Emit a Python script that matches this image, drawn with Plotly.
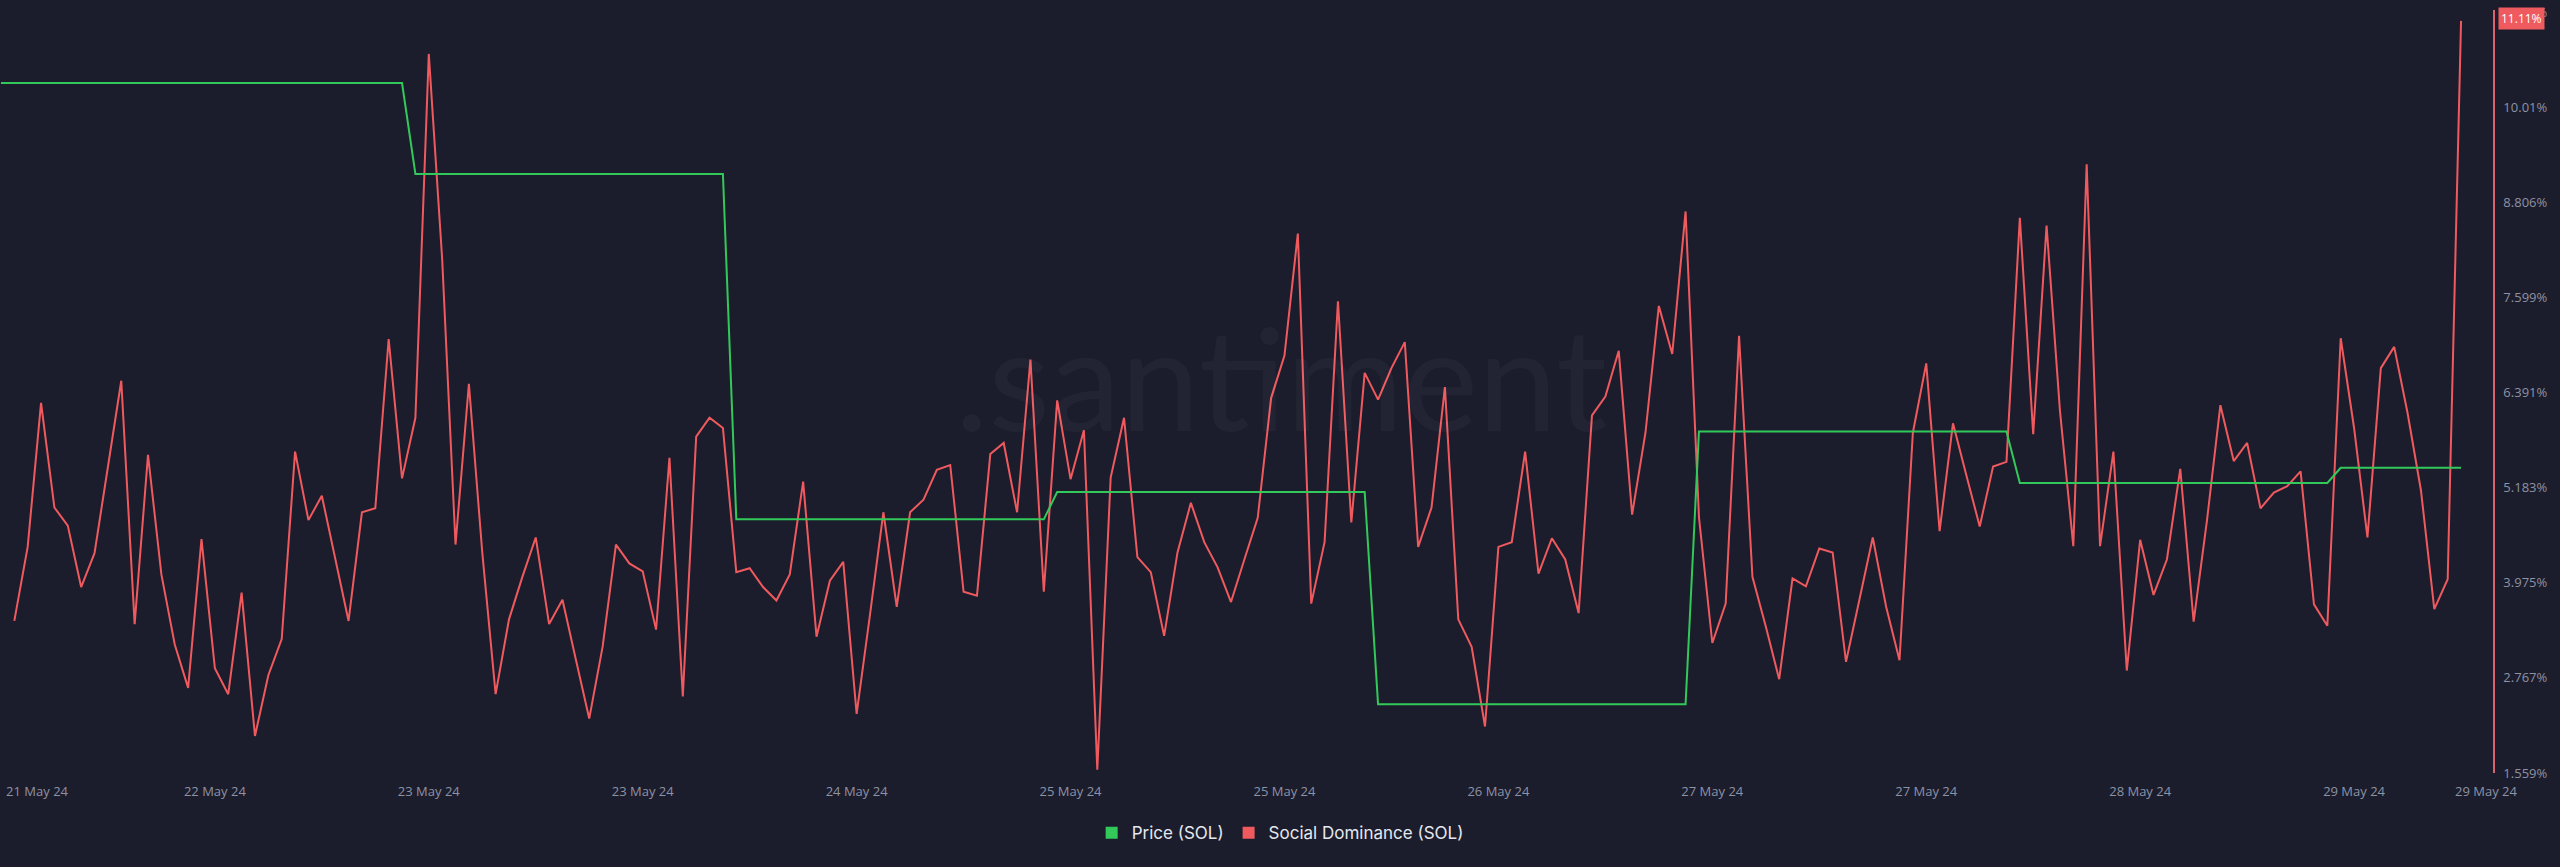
import pandas as pd
import plotly.graph_objects as go

# ---------------- data ----------------
# Social Dominance (SOL), hourly, first point 2024-05-21 18:00
social_dominance = [
    3.49, 4.43, 6.26, 4.93, 4.70, 3.92, 4.35, 5.44, 6.54, 3.45,
    5.60, 4.08, 3.19, 2.64, 4.53, 2.89, 2.56, 3.85, 2.03, 2.80,
    3.26, 5.64, 4.77, 5.08, 4.30, 3.49, 4.87, 4.92, 7.07, 5.30,
    6.07, 10.69, 8.09, 4.46, 6.50, 4.36, 2.56, 3.51, 4.05, 4.55,
    3.45, 3.76, 3.00, 2.25, 3.16, 4.46, 4.22, 4.12, 3.38, 5.56,
    2.53, 5.83, 6.07, 5.94, 4.11, 4.16, 3.92, 3.75, 4.08, 5.26,
    3.29, 4.00, 4.24, 2.31, 3.57, 4.87, 3.67, 4.87, 5.03, 5.41,
    5.47, 3.86, 3.81, 5.61, 5.75, 4.87, 6.81, 3.86, 6.29, 5.29,
    5.91, 1.60, 5.31, 6.07, 4.30, 4.11, 3.30, 4.36, 4.99, 4.49,
    4.17, 3.73, 4.27, 4.80, 6.32, 6.86, 8.41, 3.71, 4.49, 7.55,
    4.74, 6.64, 6.30, 6.70, 7.03, 4.43, 4.93, 6.46, 3.51, 3.16,
    2.15, 4.43, 4.49, 5.64, 4.09, 4.54, 4.27, 3.59, 6.10, 6.34,
    6.92, 4.84, 5.88, 7.49, 6.88, 8.69, 4.81, 3.21, 3.71, 7.11,
    4.05, 3.42, 2.75, 4.03, 3.93, 4.41, 4.36, 2.97, 3.76, 4.55,
    3.67, 2.99, 5.88, 6.76, 4.63, 6.00, 5.34, 4.69, 5.45, 5.51,
    8.61, 5.86, 8.51, 6.16, 4.44, 9.29, 4.44, 5.64, 2.86, 4.52,
    3.82, 4.27, 5.42, 3.48, 4.77, 6.23, 5.52, 5.75, 4.92, 5.12,
    5.20, 5.39, 3.70, 3.43, 7.08, 5.94, 4.55, 6.70, 6.97, 6.13,
    5.15, 3.64, 4.02, 11.11,
]
social_start = "2024-05-21 18:00"

# Price (SOL): daily value, drawn as corner points of the daily steps
price_times = [
    "2024-05-21 17:00", "2024-05-22 23:00",
    "2024-05-23 00:00", "2024-05-23 23:00",
    "2024-05-24 00:00", "2024-05-24 23:00",
    "2024-05-25 00:00", "2024-05-25 23:00",
    "2024-05-26 00:00", "2024-05-26 23:00",
    "2024-05-27 00:00", "2024-05-27 23:00",
    "2024-05-28 00:00", "2024-05-28 23:00",
    "2024-05-29 00:00", "2024-05-29 09:00",
]
price_values = [
    184.0, 184.0,
    181.0, 181.0,
    169.6, 169.6,
    170.5, 170.5,
    163.5, 163.5,
    172.5, 172.5,
    170.8, 170.8,
    171.3, 171.3,
]

x_tick_times = [
    "2024-05-21 19:42", "2024-05-22 09:00", "2024-05-23 01:00",
    "2024-05-23 17:00", "2024-05-24 09:00", "2024-05-25 01:00",
    "2024-05-25 17:00", "2024-05-26 09:00", "2024-05-27 01:00",
    "2024-05-27 17:00", "2024-05-28 09:00", "2024-05-29 01:00",
    "2024-05-29 10:52",
]
x_tick_labels = [
    "21 May 24", "22 May 24", "23 May 24", "23 May 24", "24 May 24",
    "25 May 24", "25 May 24", "26 May 24", "27 May 24", "27 May 24",
    "28 May 24", "29 May 24", "29 May 24",
]
y_tick_values = [1.559, 2.767, 3.975, 5.183, 6.391, 7.599, 8.806, 10.01, 11.22]
y_tick_labels = ["1.559%", "2.767%", "3.975%", "5.183%", "6.391%",
                 "7.599%", "8.806%", "10.01%", "11.22%"]

# ---------------- styling ----------------
BG = "#1b1d2c"
RED = "#ef5a5f"
GREEN = "#33c95a"
TICK = "#8d92a5"

start = pd.Timestamp(social_start)
social_x = pd.date_range(start=start, periods=len(social_dominance), freq="h")
x_range = [start - pd.Timedelta(hours=1.07), start + pd.Timedelta(hours=185.39)]

fig = go.Figure()

fig.add_trace(go.Scatter(
    x=pd.to_datetime(price_times), y=price_values, mode="lines",
    line=dict(color=GREEN, width=2), yaxis="y2", showlegend=False,
    name="Price (SOL)",
))
fig.add_trace(go.Scatter(
    x=social_x, y=social_dominance, mode="lines",
    line=dict(color=RED, width=2), yaxis="y", showlegend=False,
    name="Social Dominance (SOL)",
))
# legend entries with square swatches
fig.add_trace(go.Scatter(
    x=[None], y=[None], mode="markers", name="Price (SOL)",
    marker=dict(symbol="square", size=12, color=GREEN),
))
fig.add_trace(go.Scatter(
    x=[None], y=[None], mode="markers", name="Social Dominance (SOL)",
    marker=dict(symbol="square", size=12, color=RED),
))

# watermark
fig.add_annotation(
    text=".santiment", xref="paper", yref="paper", x=0.514, y=0.52,
    xanchor="center", yanchor="middle", showarrow=False,
    font=dict(family="Lato", size=142, color="rgba(255,255,255,0.035)"),
)
# last value label
fig.add_annotation(
    text="11.11%", xref="paper", yref="y", x=1, y=social_dominance[-1],
    xanchor="left", yanchor="middle", xshift=5, yshift=2, showarrow=False,
    bgcolor=RED, borderpad=2,
    font=dict(family="Open Sans", size=12, color="#ffffff"),
)

fig.update_layout(
    width=2560, height=867,
    paper_bgcolor=BG, plot_bgcolor=BG,
    margin=dict(l=0, r=67, t=10, b=94),
    font=dict(family="Open Sans", color=TICK),
    xaxis=dict(
        type="date", range=x_range, showgrid=False, zeroline=False,
        showline=False, tickmode="array",
        tickvals=pd.to_datetime(x_tick_times), ticktext=x_tick_labels,
        ticks="outside", ticklen=6, tickcolor=BG,
        tickfont=dict(family="Open Sans", size=13, color=TICK),
    ),
    yaxis=dict(
        side="right", range=[1.559, 11.248], showgrid=False, zeroline=False,
        showline=True, linecolor="#d9646d", linewidth=1.5,
        tickmode="array", tickvals=y_tick_values, ticktext=y_tick_labels,
        ticks="outside", ticklen=6, tickcolor=BG,
        tickfont=dict(family="Open Sans", size=13, color=TICK),
    ),
    yaxis2=dict(
        overlaying="y", range=[161.23, 186.41], visible=False,
        showgrid=False, zeroline=False,
    ),
    legend=dict(
        orientation="h", x=0.5135, y=-0.079, xanchor="center", yanchor="middle",
        font=dict(family="Inter", size=17, color="#e6e8ef"),
        bgcolor="rgba(0,0,0,0)", itemwidth=30,
    ),
    showlegend=True,
)

fig.write_html("out.html")
